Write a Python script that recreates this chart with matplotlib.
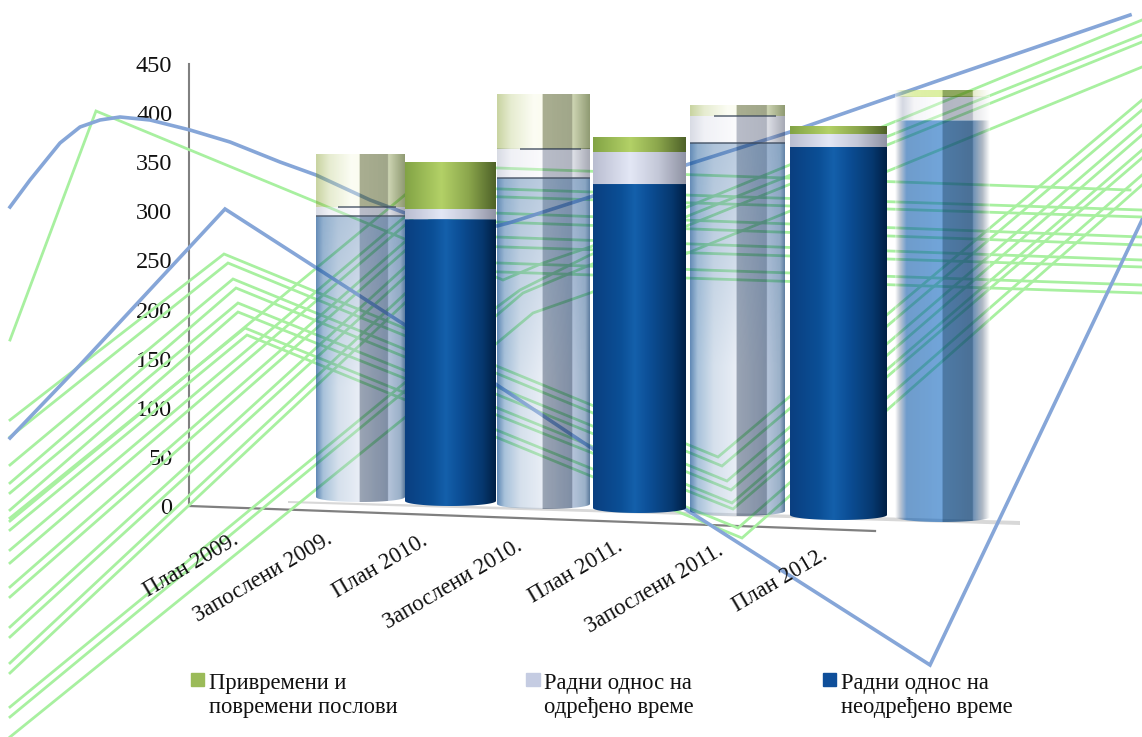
import numpy as np
import matplotlib
matplotlib.use("Agg")
import matplotlib.pyplot as plt
from matplotlib.colors import to_rgb
from matplotlib.patches import Polygon, Rectangle, Patch
from matplotlib.legend_handler import HandlerPatch

plt.rcParams['font.family'] = ['Liberation Serif', 'DejaVu Serif']

# ---------- data ----------
categories = ["План 2009.", "Запослени 2009.", "План 2010.", "Запослени 2010.",
              "План 2011.", "Запослени 2011.", "План 2012."]
indefinite = [291, 292, 337, 335, 380, 380, 409]
fixed_term = [9, 10, 30, 33, 27, 13, 24]
temporary = [53, 47, 55, 15, 11, 8, 7]
series_names = ["Привремени и\nповремени послови", "Радни однос на\nодређено време",
                "Радни однос на\nнеодређено време"]
y_ticks = [0, 50, 100, 150, 200, 250, 300, 350, 400, 450]

# stray trace lines (horizontal position, vertical position)
peak_start = [420, 437, 465, 483, 493, 510, 518, 530]
peak_x = [224, 228, 233, 236, 238, 238, 245, 247]
peak_y = [254, 263, 279, 288, 303, 312, 328, 335]
valley_x = [718, 722, 727, 731, 732, 733, 738, 742]
valley_y = [457, 466, 481, 490, 503, 509, 528, 538]
peak_end = [100, 110, 125, 135, 150, 158, 175, 185]

flat_start = [521, 550, 563, 587, 597, 627, 637, 663, 673]
flat_knot = [168, 189, 197, 213, 222, 237, 247, 263, 272]
flat_end = [190, 210, 217, 237, 245, 260, 267, 285, 293]

rise_lines = [
    ([10, 497, 520, 590, 1142], [707, 307, 290, 255, 35]),
    ([10, 497, 523, 590, 1142], [717, 315, 293, 265, 42]),
    ([10, 497, 533, 590, 1142], [737, 343, 313, 293, 67]),
    ([10, 96, 190, 316, 503, 543, 590, 1142], [340, 111, 150, 202, 280, 263, 247, 20]),
]
blue_x1 = [10, 30, 60, 80, 100, 120, 150, 190, 230, 280, 316, 370, 405, 470, 497, 512, 590, 686, 790, 940, 1130]
blue_y1 = [207, 180, 143, 127, 120, 117, 120, 130, 142, 162, 175, 200, 213, 225, 226, 222, 197, 165, 132, 80, 15]
blue_x2 = [10, 80, 225, 405, 497, 590, 690, 930, 1142]
blue_y2 = [438, 365, 209, 325, 385, 447, 512, 665, 220]

# ---------- layout ----------
W, H = 1142, 737
Y0, K = 506.0, 0.982            # pixel row of value 0, pixels per unit
bar_cx = [360.5, 450.5, 543.5, 639.5, 737.5, 838.5, 942.5]
bar_w = [89, 91, 93, 93, 95, 97, 95]
bar_base = [502, 506, 509, 513, 516, 520, 522]
bar_style = ['wash', 'solid', 'wash', 'solid', 'wash', 'solid', 'fade']
label_end = [(237, 538), (331, 538), (426, 539), (521, 545), (621, 545), (722, 549), (826, 553)]


def val(p):
    return (Y0 - np.asarray(p, dtype=float)) / K


S = 0.49
T = 0.81
STOPS = {
    'solid': [
        [(0, '#0a3f80'), (.3, '#0b4f96'), (.45, '#1460ab'), (.6, '#0c4f97'), (.85, '#06386f'), (1, '#001f45')],
        [(0, '#b9bdd0'), (.4, '#e3e7f5'), (.7, '#c4c8d8'), (1, '#8f92a3')],
        [(0, '#82a345'), (.4, '#b3d167'), (.7, '#8ba64c'), (1, '#4e6128')],
    ],
    'wash': [
        [(0, '#5f88b5'), (.08, '#a7c1da'), (.25, '#d5e0ec'), (S, '#e9eef6'), (S + .001, '#9aa4b4'), (T, '#7f8ea5'),
         (T + .001, '#b5c4da'), (.95, '#9ab0c8'), (1, '#5b7a9c')],
        [(0, '#d8dbe4'), (.15, '#f0f1f6'), (S, '#fbfbfd'), (S + .001, '#b8bcc8'), (T, '#b0b4c0'),
         (T + .001, '#dfe1e8'), (1, '#a6a9b4')],
        [(0, '#c8d3a0'), (.15, '#e6ecd0'), (.4, '#fcfdf4'), (S, '#fbfdf0'), (S + .001, '#a9ae90'), (T, '#a0a68a'),
         (T + .001, '#cfd6b4'), (1, '#8f9a72')],
    ],
    'fade': [
        [(0, '#ffffff'), (.05, '#c0c8d4'), (.12, '#6f9ccc'), (.5, '#72a5da'), (.501, '#4d7aa6'), (.82, '#4a7096'),
         (.821, '#6b8fb5'), (.92, '#aeb8c4'), (1, '#ffffff')],
        [(0, '#ffffff'), (.08, '#d4d8e2'), (.2, '#f5f5f8'), (.5, '#ffffff'), (.501, '#b2b6c2'), (.82, '#b6bac6'),
         (.821, '#e4e5e9'), (1, '#ffffff')],
        [(0, '#ffffff'), (.08, '#e4eec4'), (.2, '#dff0a8'), (.5, '#dcf0a0'), (.501, '#8fa860'), (.82, '#8fa860'),
         (.821, '#e6eccc'), (1, '#ffffff')],
    ],
}


def gradient(style, seg, n=300):
    stops = STOPS[style][seg]
    pos = [s[0] for s in stops]
    cols = np.array([to_rgb(s[1]) for s in stops])
    t = np.linspace(0, 1, n)
    return np.stack([np.interp(t, pos, cols[:, i]) for i in range(3)], axis=1)


def to_rgba_over_white(rgb):
    """Colour with per-pixel alpha that gives rgb over white but lets traces show through."""
    a = np.clip(1.02 - rgb.min(axis=-1), 0.36, 1.0)[..., None]
    c = np.clip((rgb - (1 - a)) / a, 0, 1)
    return np.concatenate([c, a], axis=-1)


fig = plt.figure(figsize=(W / 100, H / 100), dpi=100, facecolor='white')
ax = fig.add_axes([0, 0, 1, 1], facecolor='none')
ax.set_xlim(0, W)
ax.set_ylim(val(H), val(0))

# floor shadow
ax.add_patch(Polygon(np.column_stack([[288, 1020, 1020, 288], val([501, 521, 525, 503])]),
                     closed=True, fc='#d8d8d8', ec='none', zorder=0.5))

# trace lines (under the translucent columns, above the floor)
GREEN = '#a8f0a0'
BLUE = '#86a6d8'
for i in range(len(peak_x)):
    ax.plot([10, peak_x[i], valley_x[i], W], val([peak_start[i], peak_y[i], valley_y[i], peak_end[i]]),
            color=GREEN, lw=2.0, zorder=2, solid_joinstyle='miter')
for i in range(len(flat_start)):
    xe = 1130 if i == 0 else W
    ax.plot([10, 440, xe], val([flat_start[i], flat_knot[i] - 2, flat_end[i]]), color=GREEN, lw=2.0, zorder=2)
for xs, ys in rise_lines:
    ax.plot(xs, val(ys), color=GREEN, lw=2.0, zorder=2, solid_joinstyle='miter')
ax.plot(blue_x1, val(blue_y1), color=BLUE, lw=2.6, zorder=2.1)
ax.plot(blue_x2, val(blue_y2), color=BLUE, lw=2.6, zorder=2.1, solid_joinstyle='miter')

# columns
for i in range(len(categories)):
    cx, w, style = bar_cx[i], bar_w[i], bar_style[i]
    base = val(bar_base[i])
    z = 4 if style == 'solid' else 3
    bottom = 0.0
    for seg, v in enumerate([indefinite[i], fixed_term[i], temporary[i]]):
        lo = base + bottom
        hi = lo + v
        rgb = gradient(style, seg)
        if style == 'wash' and seg == 0:
            # upper part of the washed column is tinted blue
            rows = 200
            f = np.clip(1 - np.linspace(0, 1, rows) / 0.6, 0, 1)[:, None, None] * 0.38
            img = rgb[None, :, :] * (1 - f) + np.array(to_rgb('#6f94bb'))[None, None, :] * f
        else:
            img = rgb[None, :, :]
        if style != 'solid':
            img = to_rgba_over_white(img)
        im = ax.imshow(img, extent=[cx - w / 2, cx + w / 2, lo, hi], aspect='auto', origin='upper',
                       interpolation='bilinear', zorder=z)
        if seg == 0:
            d = 5 / K
            t = np.linspace(np.pi, 2 * np.pi, 40)
            xs = np.r_[cx - w / 2, cx + w / 2 * np.cos(t), cx + w / 2]
            ys = np.r_[hi, lo + d + d * np.sin(t), hi]
            clip = Polygon(np.column_stack([xs, ys]), closed=True, transform=ax.transData)
            im.set_clip_path(clip)
        if style == 'wash' and seg < 2:
            ax.plot([cx - w / 2 + (0 if seg == 0 else w * 0.25), cx + w / 2 - (0 if seg == 0 else w * 0.1)],
                    [hi, hi], color='#3d4a5c', lw=1.1, alpha=0.85, zorder=z + 0.1, solid_capstyle='butt')
        bottom += v

# axes
ax.set_xlim(0, W)
ax.set_ylim(val(H), val(0))
for name in ['top', 'right', 'bottom']:
    ax.spines[name].set_visible(False)
ax.spines['left'].set_position(('axes', 189 / W))
ax.spines['left'].set_bounds(0, 450)
ax.spines['left'].set_color('#808080')
ax.spines['left'].set_linewidth(1.5)
ax.spines['left'].set_zorder(1)
ax.set_xticks([])
ax.set_yticks(y_ticks)
ax.tick_params(axis='y', length=0, pad=12, labelsize=17.5, labelcolor='#111111')
ax.plot([189, 875], val([506, 531]), color='#808080', lw=1.6, zorder=1)

# category labels
for name, (xe, ye) in zip(categories, label_end):
    ax.text(xe, val(ye), name, rotation=30.5, rotation_mode='anchor', ha='right', va='center',
            fontsize=16.3, color='#111111', zorder=6)


# legend
def swatch(legend, orig_handle, xdescent, ydescent, width, height, fontsize):
    return Rectangle((xdescent, ydescent + 12.5), 9.5, 9.5)


handles = [Patch(color='#9bbb59', label=series_names[0]),
           Patch(color='#c5cce2', label=series_names[1]),
           Patch(color='#0f4f9a', label=series_names[2])]
leg = ax.legend(handles=handles, ncol=3, loc='upper left', bbox_to_anchor=(191 / W, 1 - 672.5 / H),
                bbox_transform=ax.transAxes, frameon=False, fontsize=16.3, handlelength=0.6,
                handletextpad=0.2, columnspacing=5.68, labelspacing=0, borderpad=0, borderaxespad=0,
                handler_map={Patch: HandlerPatch(patch_func=swatch)})
leg.set_zorder(6)
for t in leg.get_texts():
    t.set_linespacing(1.25)
    t.set_color('#111111')

fig.savefig('out.png', dpi=100, facecolor='white')
